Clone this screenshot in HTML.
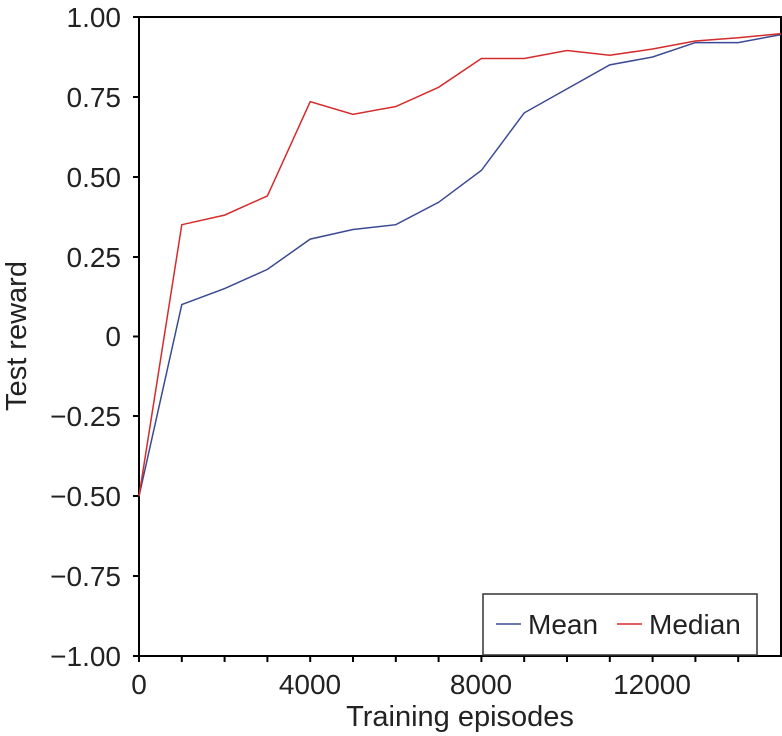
<!DOCTYPE html>
<html><head><meta charset="utf-8"><style>
html,body{margin:0;padding:0;background:#fff;}
svg{display:block;font-family:"Liberation Sans",Arial,sans-serif;}
</style></head><body>
<svg width="782" height="736" viewBox="0 0 782 736" xmlns="http://www.w3.org/2000/svg">
<g stroke="#000" stroke-width="2" fill="none">
<path d="M139,17 H781 V656 H139 Z"/>
<path d="M133,17H139M133,97H139M133,177H139M133,257H139M133,336.5H139M133,416H139M133,496H139M133,576H139M133,656H139"/>
<path d="M139,656V662M181.8,656V662M224.6,656V662M267.4,656V662M310.2,656V662M353,656V662M395.8,656V662M438.6,656V662M481.4,656V662M524.2,656V662M567,656V662M609.8,656V662M652.6,656V662M695.4,656V662M738.2,656V662"/>
</g>
<polyline fill="none" stroke="#3a4a94" stroke-width="1.5" points="139,496.3 181.8,304.6 224.6,288.6 267.4,269.4 310.2,239.1 353,229.5 395.8,224.7 438.6,202.3 481.4,170.4 524.2,112.9 567,88.9 609.8,64.9 652.6,57 695.4,42.6 738.2,42.6 781,34.6"/>
<polyline fill="none" stroke="#d62b2b" stroke-width="1.5" points="139,496.3 181.8,224.7 224.6,215.1 267.4,195.9 310.2,101.7 353,114.4 395.8,106.5 438.6,87.3 481.4,58.5 524.2,58.5 567,50.5 609.8,55.3 652.6,49 695.4,41 738.2,37.8 781,33.6"/>
<g font-size="28" fill="#222" text-anchor="end">
<text x="121" y="27">1.00</text>
<text x="121" y="107">0.75</text>
<text x="121" y="187">0.50</text>
<text x="121" y="267">0.25</text>
<text x="121" y="346">0</text>
<text x="121" y="426">−0.25</text>
<text x="121" y="506">−0.50</text>
<text x="121" y="586">−0.75</text>
<text x="121" y="666">−1.00</text>
</g>
<g font-size="28" fill="#222" text-anchor="middle">
<text x="139" y="694">0</text>
<text x="310" y="694">4000</text>
<text x="481" y="694">8000</text>
<text x="652" y="694">12000</text>
<text x="460" y="726" font-size="29">Training episodes</text>
<text transform="translate(26,336) rotate(-90)" font-size="29">Test reward</text>
</g>
<rect x="483" y="594" width="274" height="61" fill="#fff" stroke="#333" stroke-width="1.5"/>
<line x1="496" y1="624" x2="521" y2="624" stroke="#3a4a94" stroke-width="1.5"/>
<line x1="617" y1="624" x2="642" y2="624" stroke="#d62b2b" stroke-width="1.5"/>
<g font-size="28" fill="#222"><text x="528" y="634">Mean</text><text x="649" y="634">Median</text></g>
</svg>
</body></html>
